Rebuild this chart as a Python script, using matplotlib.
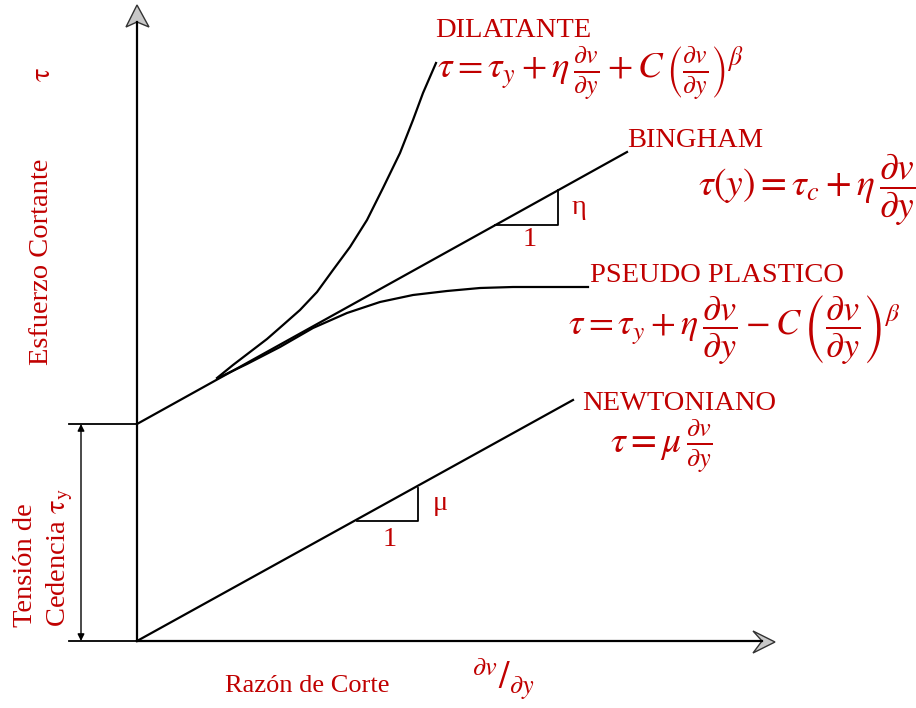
import numpy as np
import matplotlib
matplotlib.use("Agg")
from matplotlib import pyplot as plt
from matplotlib.patches import Polygon

plt.rcParams["font.family"] = ["Liberation Serif", "DejaVu Serif"]
plt.rcParams["mathtext.fontset"] = "stix"

RED = "#C00000"

# diagram units: shear rate (x) and shear stress (y), origin at the axes corner
newton_rate = [0, 436]
newton_stress = [0, 241]

bingham_rate = [0, 490]
bingham_stress = [217, 489]

dilat_rate = [80, 96, 113, 130, 146, 163, 180, 196, 213, 230, 246, 263, 276, 286, 299]
dilat_stress = [263, 276, 289, 302, 316, 331, 349, 371, 394, 421, 453, 488, 521, 548, 578]

pseudo_rate = [81, 110, 143, 176, 210, 243, 276, 310, 343, 376, 451]
pseudo_stress = [263, 277, 294, 313, 328, 339, 346, 350, 353, 354, 354]

yield_stress = 217

# slope triangles: (x0, x1, y0, y1)
newton_tri = (220, 281, 120, 153)
bingham_tri = (358, 421, 416, 451)

fig = plt.figure(figsize=(9.16, 7.08), dpi=100)
ax = fig.add_axes([0, 0, 1, 1])
ax.set_xlim(-137, 779)
ax.set_ylim(-67, 641)
ax.axis(False)

lw = 1.6
# axes with grey arrow heads
ax.plot([0, 0], [0, 619], color="black", lw=lw)
ax.plot([0, 625], [0, 0], color="black", lw=lw)
ax.add_patch(Polygon([[0, 636], [-11, 614], [0, 619], [12, 614]],
                     closed=True, fc="#c8c8c8", ec="#333333", lw=1))
ax.add_patch(Polygon([[638, -1], [616, 10], [625, 0], [616, -12]],
                     closed=True, fc="#c8c8c8", ec="#333333", lw=1))

# curves
ax.plot(newton_rate, newton_stress, color="black", lw=lw)
ax.plot(bingham_rate, bingham_stress, color="black", lw=lw)
ax.plot(dilat_rate, dilat_stress, color="black", lw=lw, solid_joinstyle="round")
ax.plot(pseudo_rate, pseudo_stress, color="black", lw=lw, solid_joinstyle="round")

# slope triangles
for x0, x1, y0, y1 in (newton_tri, bingham_tri):
    ax.plot([x0, x1, x1], [y0, y0, y1], color="black", lw=1.3)

# yield stress dimension
ax.plot([-68, 0], [yield_stress, yield_stress], color="black", lw=1.3)
ax.plot([-68, 0], [0, 0], color="black", lw=1.3)
ax.annotate("", xy=(-56, yield_stress), xytext=(-56, 0),
            arrowprops=dict(arrowstyle="<|-|>", color="black", lw=1.0,
                            mutation_scale=10, shrinkA=0, shrinkB=0))

fs = 20.5
# labels
ax.text(298, 604, "DILATANTE", color=RED, fontsize=fs, va="baseline")
ax.text(300, 567,
        r"$\tau = \tau_y + \eta\,\frac{\partial v}{\partial y} + C\,\left(\frac{\partial v}{\partial y}\right)^{\beta}$",
        color=RED, fontsize=26.5, va="center")

ax.text(490, 494, "BINGHAM", color=RED, fontsize=fs, va="baseline")
ax.text(778, 451, r"$\tau(y) = \tau_c + \eta\,\dfrac{\partial v}{\partial y}$",
        color=RED, fontsize=27, va="center", ha="right")

ax.text(453, 359, "PSEUDO PLASTICO", color=RED, fontsize=fs, va="baseline")
ax.text(431, 311,
        r"$\tau = \tau_y + \eta\,\dfrac{\partial v}{\partial y} - C\,\left(\dfrac{\partial v}{\partial y}\right)^{\beta}$",
        color=RED, fontsize=26, va="center")

ax.text(445, 231, "NEWTONIANO", color=RED, fontsize=fs, va="baseline")
ax.text(473, 195, r"$\tau = \mu\,\frac{\partial v}{\partial y}$",
        color=RED, fontsize=27, va="center")

ax.text(435, 434, "η", color=RED, fontsize=fs, va="center")
ax.text(393, 401, "1", color=RED, fontsize=fs, va="center", ha="center")
ax.text(296, 138, "μ", color=RED, fontsize=fs, va="center")
ax.text(253, 101, "1", color=RED, fontsize=fs, va="center", ha="center")

ax.text(88, -51, "Razón de Corte", color=RED, fontsize=19, va="baseline")
ax.text(335, -38, r"${}^{\partial v}/_{\partial y}$", color=RED, fontsize=27,
        va="center")

ax.text(-96, 276, "Esfuerzo Cortante", color=RED, fontsize=fs, rotation=90,
        rotation_mode="anchor", ha="left", va="center")
ax.text(-94, 566, r"$\mathrm{\tau}$", color=RED, fontsize=fs, rotation=90,
        rotation_mode="anchor", ha="center", va="center")
ax.text(-112, 14, "Tensión de", color=RED, fontsize=fs, rotation=90,
        rotation_mode="anchor", ha="left", va="center")
ax.text(-77, 14, r"Cedencia $\mathrm{\tau_y}$", color=RED, fontsize=fs,
        rotation=90, rotation_mode="anchor", ha="left", va="center")

fig.savefig("out.png", dpi=100)
